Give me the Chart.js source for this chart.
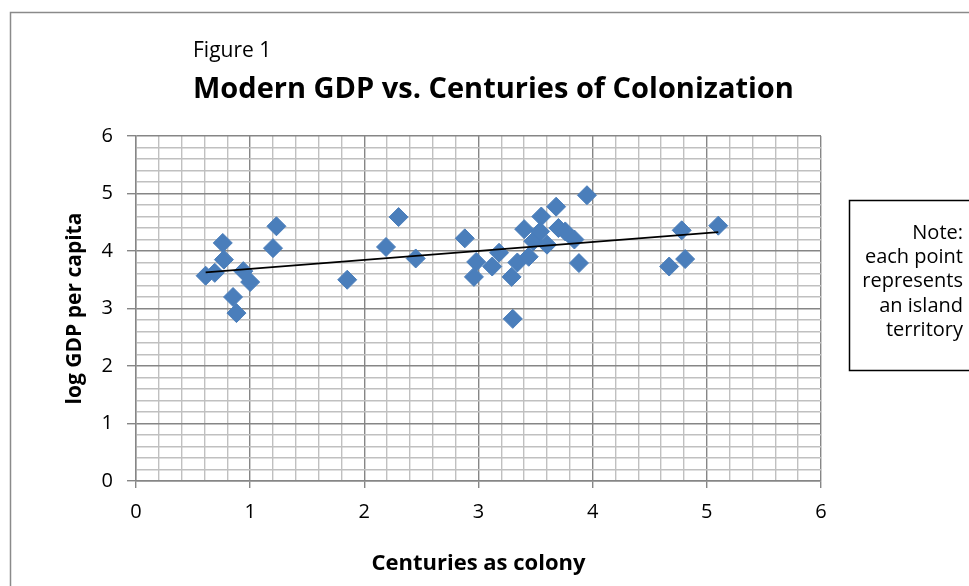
<!DOCTYPE html>
<html lang="en">
<head>
<meta charset="UTF-8">
<title>Modern GDP vs. Centuries of Colonization</title>
<script src="https://cdn.jsdelivr.net/npm/chart.js@4.4.1/dist/chart.umd.min.js"></script>
<style>
  body { margin: 0; background: #fff; }
  #wrap { width: 969px; height: 586px; }
</style>
</head>
<body>
<div id="wrap"><canvas id="gdp" width="969" height="586"></canvas></div>
<script>
  // centuries as colony / log GDP per capita, one entry per island
  var centuries = [0.61, 0.69, 0.77, 0.76, 0.94, 1.00, 0.85, 0.88, 1.23, 1.20,
                   1.85, 2.19, 2.30, 2.45, 2.88, 2.98, 2.96, 3.12, 3.18, 3.29,
                   3.30, 3.34, 3.40, 3.44, 3.48, 3.55, 3.54, 3.60, 3.68, 3.70,
                   3.76, 3.84, 3.88, 3.95, 4.67, 4.78, 4.81, 5.10]
  var logGdp    = [3.57, 3.62, 3.85, 4.14, 3.65, 3.46, 3.20, 2.92, 4.43, 4.05,
                   3.50, 4.07, 4.59, 3.87, 4.22, 3.81, 3.55, 3.73, 3.97, 3.55,
                   2.82, 3.80, 4.38, 3.90, 4.17, 4.60, 4.34, 4.11, 4.77, 4.40,
                   4.34, 4.20, 3.79, 4.97, 3.73, 4.36, 3.86, 4.44]
  // trend line ends
  var trendX = [0.61, 5.10]
  var trendY = [3.63, 4.33]
  var xTicks = [0, 1, 2, 3, 4, 5, 6]
  var yTicks = [0, 1, 2, 3, 4, 5, 6]
  var noteLines = ['Note:', 'each point', 'represents', 'an island', 'territory']

  var FONT = '"Open Sans", "Liberation Sans", sans-serif'
  var MAJOR = '#868686'
  var MINOR = '#c0c0c0'

  function isMajor(v, list) {
    for (var i = 0; i < list.length; i++) {
      if (Math.abs(v - list[i]) < 1e-6) return true
    }
    return false
  }

  var points = centuries.map(function (c, i) { return {x: c, y: logGdp[i]} })
  var trend = trendX.map(function (t, i) { return {x: t, y: trendY[i]} })

  var extras = {
    id: 'extras',
    beforeDraw: function (chart) {
      var c = chart.ctx
      c.save()
      c.fillStyle = '#fff'
      c.fillRect(0, 0, chart.width, chart.height)
      c.strokeStyle = '#8a8a8a'
      c.lineWidth = 1.5
      c.strokeRect(10.5, 12.5, 1000, 700)
      c.restore()
    },
    afterDraw: function (chart) {
      var c = chart.ctx
      c.save()
      c.fillStyle = '#000'
      c.textBaseline = 'alphabetic'
      c.textAlign = 'left'
      c.font = '21px ' + FONT
      c.fillText('Figure 1', 193, 57)
      c.font = 'bold 29px ' + FONT
      c.fillText('Modern GDP vs. Centuries of Colonization', 193, 98)

      c.strokeStyle = '#000'
      c.lineWidth = 1.5
      c.strokeRect(849.5, 200.5, 140, 170)
      c.font = '20px ' + FONT
      c.textAlign = 'right'
      for (var i = 0; i < noteLines.length; i++) {
        c.fillText(noteLines[i], 963, 239 + i * 24.2)
      }
      c.restore()
    }
  }

  new Chart(document.getElementById('gdp'), {
    type: 'scatter',
    data: {
      datasets: [{
        label: 'Islands',
        data: points,
        pointStyle: 'rectRot',
        pointRadius: 9.5,
        pointBackgroundColor: '#4a7ebb',
        pointBorderColor: '#4a7ebb',
        pointBorderWidth: 1,
        order: 2
      }, {
        type: 'line',
        label: 'Trend',
        data: trend,
        borderColor: '#000',
        borderWidth: 1.8,
        pointRadius: 0,
        fill: false,
        order: 1
      }]
    },
    options: {
      responsive: false,
      animation: false,
      layout: { padding: { top: 136, right: 148, left: 0, bottom: 0 } },
      plugins: {
        legend: { display: false },
        tooltip: { enabled: false }
      },
      scales: {
        x: {
          type: 'linear',
          min: 0, max: 6,
          afterFit: function (s) { s.height = 105 },
          afterBuildTicks: function (s) {
            var t = []
            for (var i = 0; i <= 30; i++) t.push({value: i / 5})
            s.ticks = t
          },
          ticks: {
            autoSkip: false,
            maxRotation: 0,
            padding: 12,
            color: '#000',
            font: { family: FONT, size: 20 },
            callback: function (v) { return isMajor(v, xTicks) ? String(Math.round(v)) : '' }
          },
          grid: {
            lineWidth: 1.4,
            tickLength: 7,
            color: function (ctx) { return ctx.tick && isMajor(ctx.tick.value, xTicks) ? MAJOR : MINOR },
            tickColor: function (ctx) { return ctx.tick && isMajor(ctx.tick.value, xTicks) ? MAJOR : 'rgba(0,0,0,0)' }
          },
          border: { color: MAJOR, width: 1.4 },
          title: {
            display: true,
            text: 'Centuries as colony',
            color: '#000',
            font: { family: FONT, size: 22, weight: 'bold' },
            padding: { top: 4, bottom: 9 }
          }
        },
        y: {
          type: 'linear',
          min: 0, max: 6,
          afterFit: function (s) { s.width = 136 },
          afterBuildTicks: function (s) {
            var t = []
            for (var i = 0; i <= 30; i++) t.push({value: i / 5})
            s.ticks = t
          },
          ticks: {
            autoSkip: false,
            padding: 14,
            color: '#000',
            font: { family: FONT, size: 20 },
            callback: function (v) { return isMajor(v, yTicks) ? String(Math.round(v)) : '' }
          },
          grid: {
            lineWidth: 1.4,
            tickLength: 9,
            color: function (ctx) { return ctx.tick && isMajor(ctx.tick.value, yTicks) ? MAJOR : MINOR },
            tickColor: function (ctx) { return ctx.tick && isMajor(ctx.tick.value, yTicks) ? MAJOR : 'rgba(0,0,0,0)' }
          },
          border: { color: MAJOR, width: 1.4 },
          title: {
            display: true,
            text: 'log GDP per capita',
            color: '#000',
            font: { family: FONT, size: 21, weight: 'bold' },
            padding: { top: 62, bottom: 0 }
          }
        }
      }
    },
    plugins: [extras]
  })
</script>
</body>
</html>
